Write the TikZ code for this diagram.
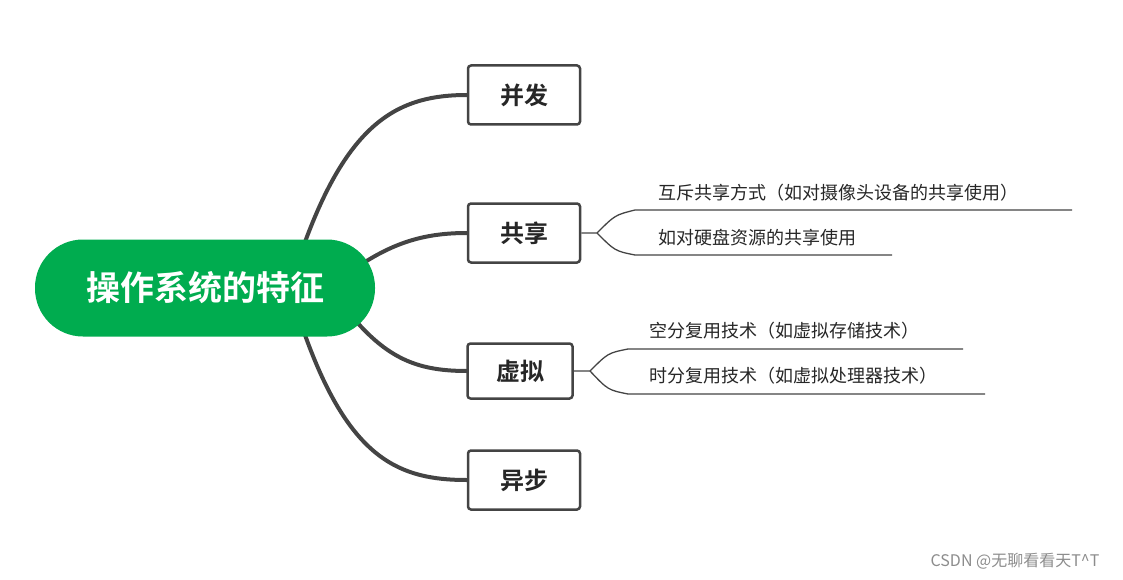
\documentclass[tikz,border=0pt]{standalone}
\usepackage{fontspec}
\newfontfamily\cjk{Noto Sans CJK SC}
\newfontfamily\cjkb{Noto Sans CJK SC Bold}
\definecolor{rootg}{HTML}{00AC4F}
\definecolor{ln}{HTML}{444444}
\begin{document}
\begin{tikzpicture}[x=1pt,y=-1pt,
  box/.style={draw=ln,line width=2.5pt,rounded corners=3pt,fill=white,minimum width=112pt,minimum height=59pt,font=\cjkb\fontsize{24}{28}\selectfont,text=black!85},
  br/.style={draw=ln,line width=4pt},
  sb/.style={draw=ln,line width=1.3pt},
  lab/.style={anchor=west,font=\cjk\fontsize{18}{22}\selectfont,text=black!85}]
\useasboundingbox (0,0) rectangle (1123,580);
\draw[br] (305,242) .. controls (350,120) and (400,95) .. (467,95);
\draw[br] (365,262) .. controls (400,240) and (430,233) .. (467,233);
\draw[br] (355,320) .. controls (390,360) and (420,371) .. (467,371);
\draw[br] (305,335) .. controls (350,460) and (400,480) .. (467,480);
\node[fill=rootg,rounded corners=48pt,minimum width=340pt,minimum height=97pt,text=white,font=\cjkb\fontsize{34}{40}\selectfont] (root) at (205,288) {操作系统的特征};
\node[box] (a) at (524,95) {并发};
\node[box] (b) at (524,233) {共享};
\node[box,minimum width=105pt,minimum height=55pt] (c) at (520,371) {虚拟};
\node[box] (d) at (524,480) {异步};
\coordinate (b1) at (597,233);
\coordinate (b2) at (1072,210);
\coordinate (b3) at (892,255);
\draw[sb] (b.east) -- (b1) .. controls (615,215) .. (635,210) -- (b2);
\draw[sb] (b1) .. controls (615,251) .. (635,255) -- (b3);
\coordinate (c1) at (590,371);
\coordinate (c2) at (963,349);
\coordinate (c3) at (985,394);
\draw[sb] (c.east) -- (c1) .. controls (608,353) .. (628,349) -- (c2);
\draw[sb] (c1) .. controls (608,390) .. (628,394) -- (c3);
\node[lab] (t1) at (655,193) {互斥共享方式（如对摄像头设备的共享使用）};
\node[lab] (t2) at (655,238) {如对硬盘资源的共享使用};
\node[lab] (t3) at (646,331) {空分复用技术（如虚拟存储技术）};
\node[lab] (t4) at (646,376) {时分复用技术（如虚拟处理器技术）};
\node[font=\cjk\fontsize{16}{20}\selectfont,text=black!45] (wm) at (1015,561) {CSDN @无聊看看天T\^{}T};
\end{tikzpicture}
\end{document}
